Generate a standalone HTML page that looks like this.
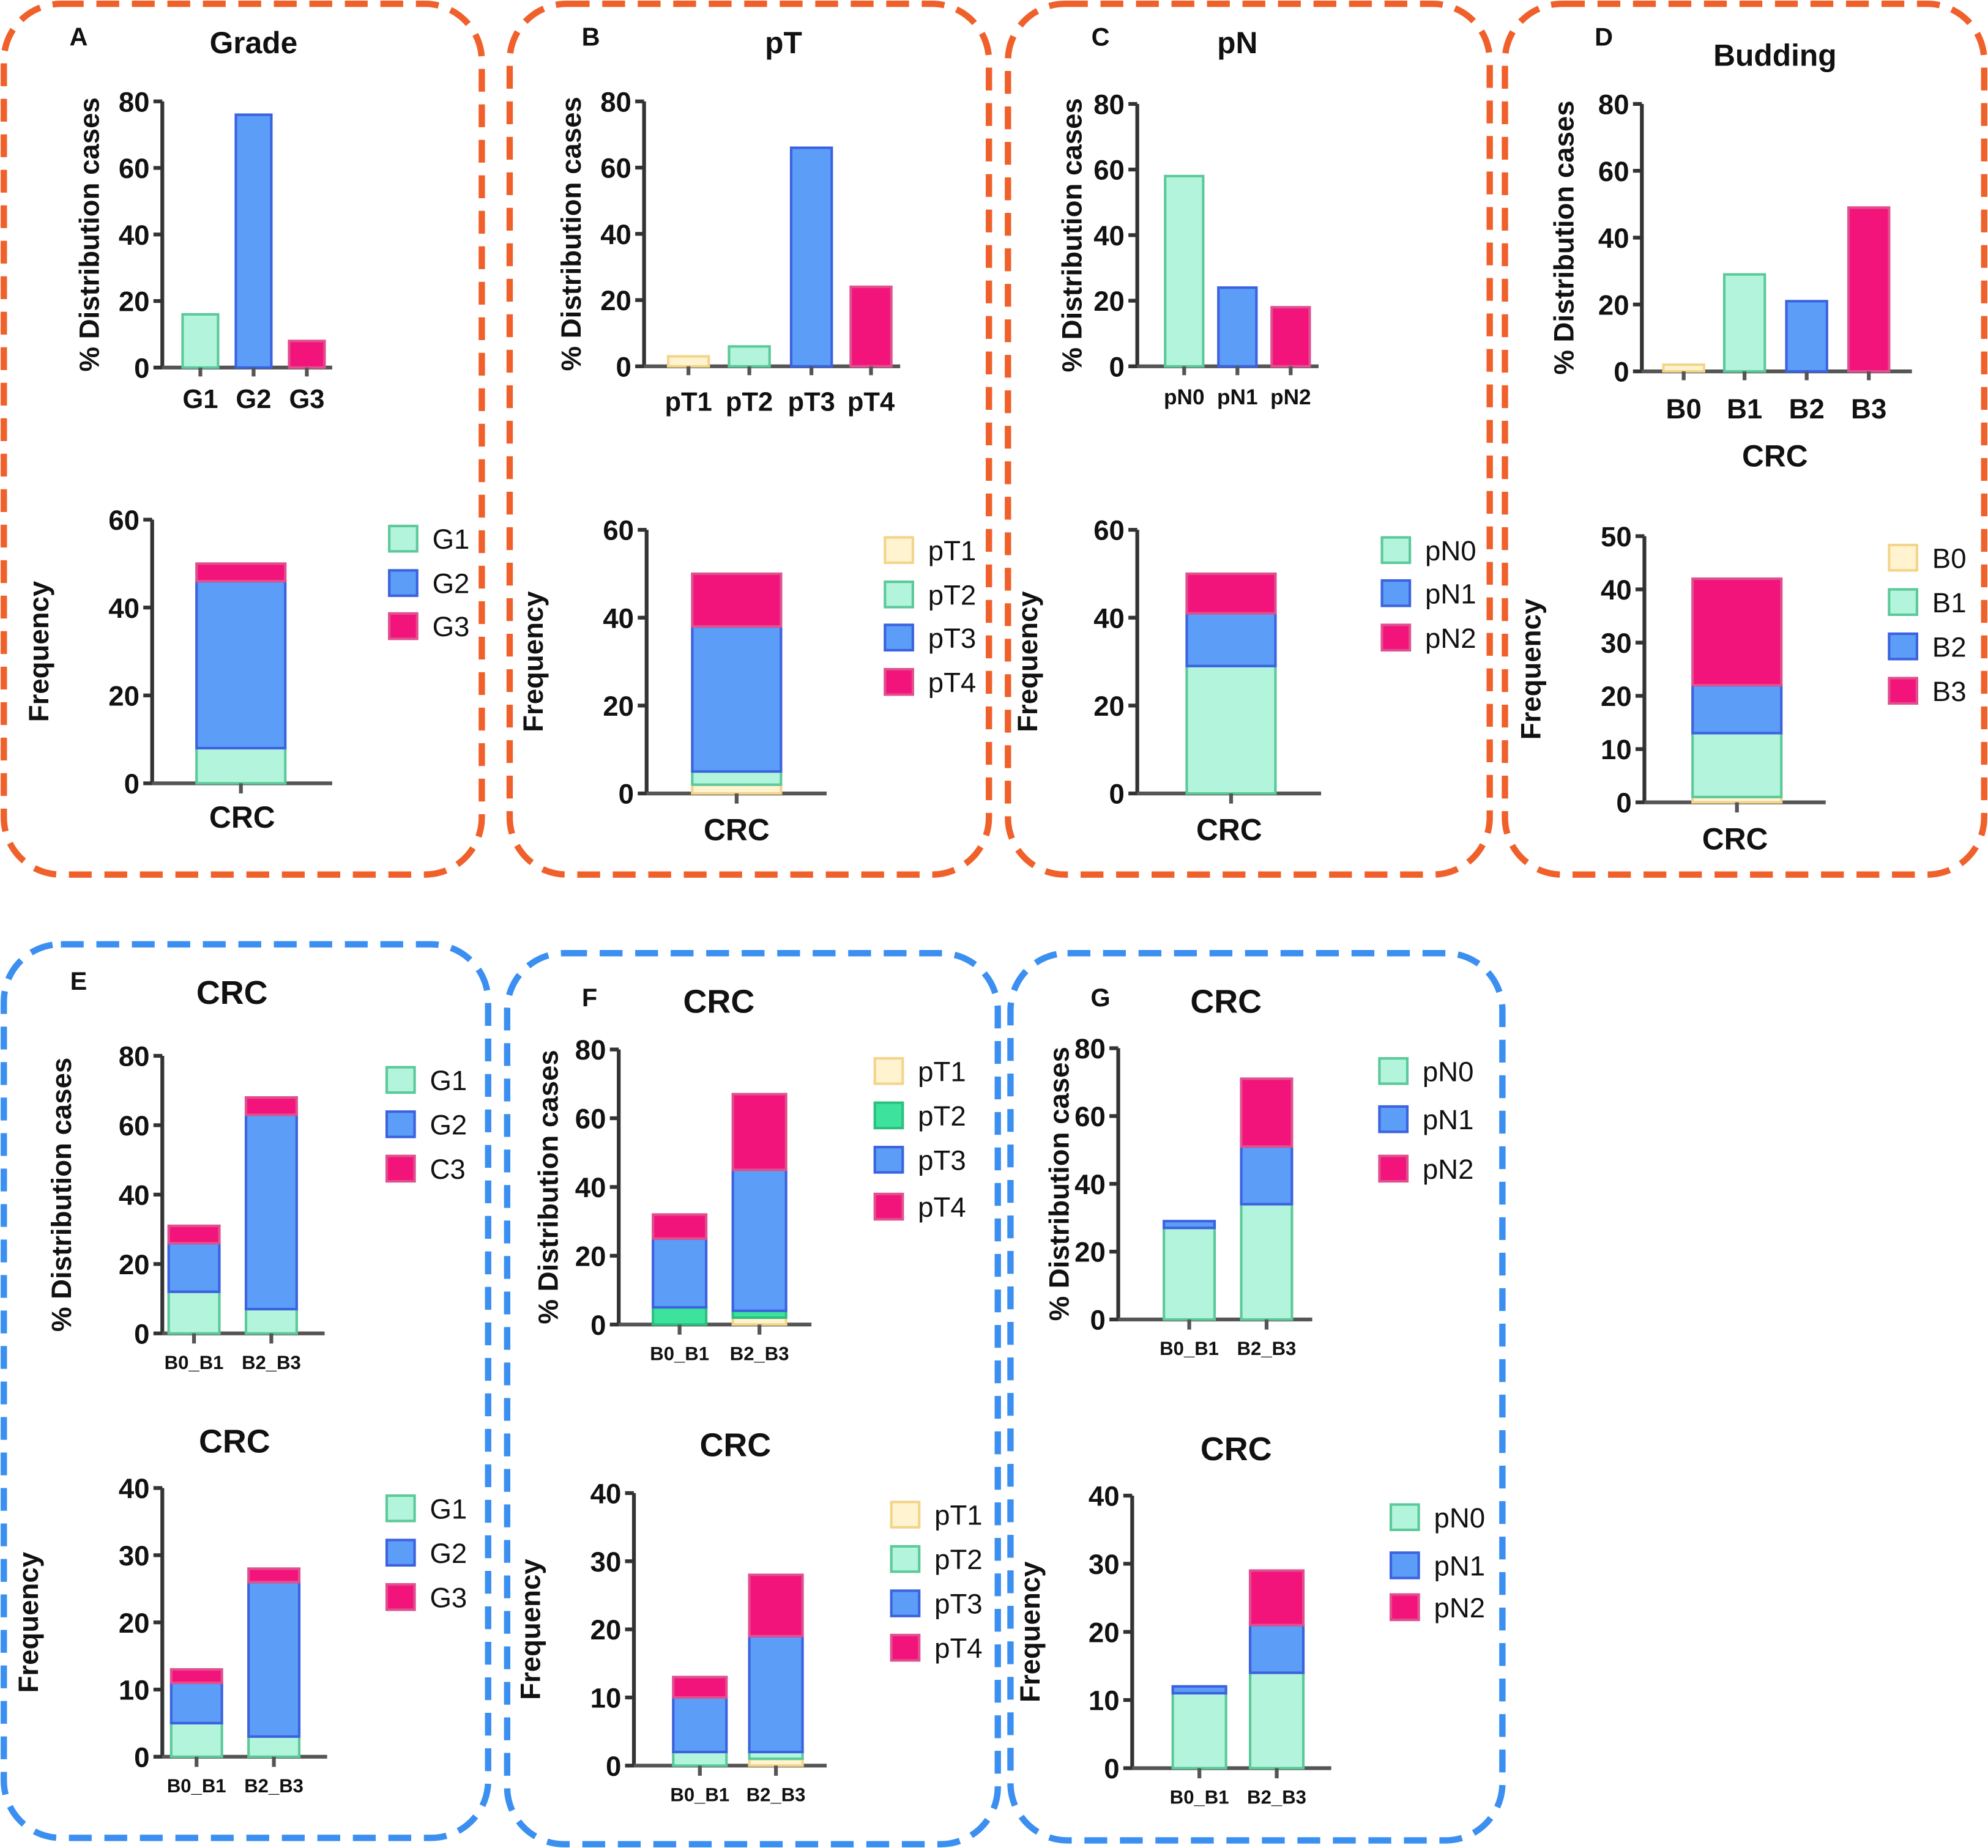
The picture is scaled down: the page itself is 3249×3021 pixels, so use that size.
<!DOCTYPE html>
<html><head><meta charset="utf-8"><style>
html,body{margin:0;padding:0;background:#fff}
svg{display:block}
text{font-family:"Liberation Sans",sans-serif;fill:#111}
</style></head><body>
<svg id="fig" width="3249" height="3021" viewBox="0 0 1568 1458" xmlns="http://www.w3.org/2000/svg"></svg>
<script>
// ---- data ----
const catsA1=['G1','G2','G3']; const valsA1=[16,76,8];
const seriesA2=['G1','G2','G3']; const valsA2=[[8],[38],[4]];
const catsB1=['pT1','pT2','pT3','pT4']; const valsB1=[3,6,66,24];
const seriesB2=['pT1','pT2','pT3','pT4']; const valsB2=[[2],[3],[33],[12]];
const catsC1=['pN0','pN1','pN2']; const valsC1=[58,24,18];
const seriesC2=['pN0','pN1','pN2']; const valsC2=[[29],[12],[9]];
const catsD1=['B0','B1','B2','B3']; const valsD1=[2,29,21,49];
const seriesD2=['B0','B1','B2','B3']; const valsD2=[[1],[12],[9],[20]];
const groupsEFG=['B0_B1','B2_B3'];
const seriesE1=['G1','G2','C3']; const valsE1=[[12,7],[14,56],[5,5]];
const seriesE2=['G1','G2','G3']; const valsE2=[[5,3],[6,23],[2,2]];
const seriesF1=['pT1','pT2','pT3','pT4']; const valsF1=[[0,2],[5,2],[20,41],[7,22]];
const seriesF2=['pT1','pT2','pT3','pT4']; const valsF2=[[0,1],[2,1],[8,17],[3,9]];
const seriesG1=['pN0','pN1','pN2']; const valsG1=[[27,34],[2,17],[0,20]];
const seriesG2=['pN0','pN1','pN2']; const valsG2=[[11,14],[1,7],[0,8]];
const ticks80=[0,20,40,60,80], ticks60=[0,20,40,60], ticks50=[0,10,20,30,40,50], ticks40=[0,10,20,30,40];

const NS='http://www.w3.org/2000/svg';
const svg=document.getElementById('fig');
const C={Y:['#fff3d0','#f3d48a'],G:['#b3f5dc','#5cc99a'],B:['#5b9df7','#3c62e0'],P:['#f2147a','#e05090'],BG:['#3de39c','#2cc07e']};
function el(tag,attrs,parent,name,inter){const e=document.createElementNS(NS,tag);for(const k in attrs)e.setAttribute(k,attrs[k]);


(parent||svg).appendChild(e);return e;}
function txt(x,y,s,size,opts,parent,name){const t=el('text',Object.assign({x:x,y:y,'font-size':size,'text-anchor':'middle','font-weight':'bold'},opts||{}),parent,name);t.textContent=s;return t;}

function panel(x1,y1,x2,y2,col,name){el('rect',{x:x1,y:y1,width:x2-x1,height:y2-y1,rx:45,ry:45,fill:'none',stroke:col,'stroke-width':5,'stroke-dasharray':'18 10'},svg,name);}

function axes(g,c,ticks,yname,ytitleX){
  const max=ticks[ticks.length-1];
  const ys=v=>c.y0-(v/max)*(c.y0-c.yTop);
  el('line',{x1:c.ax,y1:c.yTop,x2:c.ax,y2:c.y0,stroke:'#333','stroke-width':3},g,'y-axis');
  el('line',{x1:c.ax,y1:c.y0,x2:c.axEnd,y2:c.y0,stroke:'#555','stroke-width':3},g,'x-axis');
  ticks.forEach(v=>{el('line',{x1:c.ax-7,y1:ys(v),x2:c.ax,y2:ys(v),stroke:'#333','stroke-width':3},g,'y-tick');
    txt(c.ax-10,ys(v)+8,String(v),c.tickSize||22,{'text-anchor':'end'},g,'y-tick-label');});
  const t=txt(ytitleX,(c.yTop+c.y0)/2,yname,c.titleSize||22,{transform:'rotate(-90 '+ytitleX+' '+(c.yTop+c.y0)/2+')'},g,'y-axis-title');
  t.setAttribute('dy','8');
  return ys;
}

function simpleChart(c,cats,vals,colors){
  const g=el('g',{},svg,c.name);
  const ys=axes(g,c,c.ticks,'% Distribution cases',c.ytx);
  cats.forEach((cat,i)=>{const cx=c.centers[i];const col=C[colors[i]];
    const b=el('rect',{x:cx-c.bw/2,y:ys(vals[i]),width:c.bw,height:ys(0)-ys(vals[i]),fill:col[0],stroke:col[1],'stroke-width':2},g,'bar-'+cat.toLowerCase(),true);
    el('line',{x1:cx,y1:c.y0,x2:cx,y2:c.y0+7,stroke:'#555','stroke-width':3},g,'x-tick');
    txt(cx,c.y0+c.lblDy,cat,c.lblSize,{},g,'x-tick-label');});
  return g;
}

function stackChart(c,groups,series,vals,colors,ytitle){
  const g=el('g',{},svg,c.name);
  const ys=axes(g,c,c.ticks,ytitle,c.ytx);
  groups.forEach((grp,j)=>{let acc=0;const cx=c.centers[j];
    series.forEach((s,i)=>{const v=vals[i][j];if(v>0){const col=C[colors[i]];
      el('rect',{x:cx-c.bw/2,y:ys(acc+v),width:c.bw,height:ys(acc)-ys(acc+v),fill:col[0],stroke:col[1],'stroke-width':2},g,'bar-segment-'+s.toLowerCase(),true);}
      acc+=v;});
    el('line',{x1:cx,y1:c.y0,x2:cx,y2:c.y0+8,stroke:'#555','stroke-width':3},g,'x-tick');
    if(groups.length>1) txt(cx,c.y0+c.lblDy,grp,c.lblSize,{},g,'x-tick-label');
  });
  if(c.xlabel) txt((c.ax+c.axEnd)/2,c.xlabelY,c.xlabel,24,{},g,'x-axis-label');
  // legend
  series.forEach((s,i)=>{const col=C[colors[i]];const ly=c.leg.y[i];
    el('rect',{x:c.leg.x,y:ly-10,width:22,height:20,fill:col[0],stroke:col[1],'stroke-width':2},g,'legend-swatch-'+s.toLowerCase(),true);
    txt(c.leg.x+34,ly+8,s,22,{'text-anchor':'start','font-weight':'normal',fill:'#333'},g,'legend-label-'+s.toLowerCase());});
  if(c.title) txt(c.title[0],c.title[1],'CRC',26,{},g,'chart-title');
  return g;
}

// panels
panel(3,3,380,690,'#f0602a','panel-a-border');
panel(402,3,780,690,'#f0602a','panel-b-border');
panel(795,3,1175,690,'#f0602a','panel-c-border');
panel(1187,3,1565,690,'#f0602a','panel-d-border');
panel(3,745,385,1450,'#3a8ff0','panel-e-border');
panel(400,752,787,1455,'#3a8ff0','panel-f-border');
panel(797,752,1185,1452,'#3a8ff0','panel-g-border');

[['A',62,36],['B',466,36],['C',868,36],['D',1265,36],['E',62,781],['F',465,794],['G',868,794]].forEach(l=>txt(l[1],l[2],l[0],20,{},svg,'panel-letter-'+l[0].toLowerCase()));
txt(200,42,'Grade',24,{},svg,'panel-a-title');
txt(618,42,'pT',24,{},svg,'panel-b-title');
txt(976,42,'pN',24,{},svg,'panel-c-title');
txt(1400,52,'Budding',24,{},svg,'panel-d-title');

// top row simple charts
simpleChart({name:'chart-a-top',ax:128,axEnd:262,yTop:80,y0:290,ticks:ticks80,ytx:70,bw:28,centers:[158,200,242],lblDy:32,lblSize:21},catsA1,valsA1,['G','B','P']);
simpleChart({name:'chart-b-top',ax:508,axEnd:710,yTop:80,y0:289,ticks:ticks80,ytx:450,bw:32,centers:[543,591,640,687],lblDy:35,lblSize:21},catsB1,valsB1,['Y','G','B','P']);
simpleChart({name:'chart-c-top',ax:897,axEnd:1040,yTop:82,y0:289,ticks:ticks80,ytx:845,bw:30,centers:[934,976,1018],lblDy:30,lblSize:17},catsC1,valsC1,['G','B','P']);
simpleChart({name:'chart-d-top',ax:1295,axEnd:1508,yTop:82,y0:293,ticks:ticks80,ytx:1233,bw:32,centers:[1328,1376,1425,1474],lblDy:37,lblSize:22},catsD1,valsD1,['Y','G','B','P']);
txt(1400,368,'CRC',24,{},svg,'chart-d-top-x-title');

// top row stacked
stackChart({name:'chart-a-bottom',ax:120,axEnd:262,yTop:410,y0:618,ticks:ticks60,ytx:30,bw:70,centers:[190],xlabel:'CRC',xlabelY:653,leg:{x:307,y:[425,460,494]}},['CRC'],seriesA2,valsA2,['G','B','P'],'Frequency');
stackChart({name:'chart-b-bottom',ax:510,axEnd:652,yTop:418,y0:626,ticks:ticks60,ytx:420,bw:70,centers:[581],xlabel:'CRC',xlabelY:663,leg:{x:698,y:[434,469,503,538]}},['CRC'],seriesB2,valsB2,['Y','G','B','P'],'Frequency');
stackChart({name:'chart-c-bottom',ax:897,axEnd:1042,yTop:418,y0:626,ticks:ticks60,ytx:810,bw:70,centers:[971],xlabel:'CRC',xlabelY:663,leg:{x:1090,y:[434,468,503]}},['CRC'],seriesC2,valsC2,['G','B','P'],'Frequency');
stackChart({name:'chart-d-bottom',ax:1297,axEnd:1440,yTop:423,y0:633,ticks:ticks50,ytx:1207,bw:70,centers:[1370],xlabel:'CRC',xlabelY:670,leg:{x:1490,y:[440,475,510,545]}},['CRC'],seriesD2,valsD2,['Y','G','B','P'],'Frequency');

// bottom row
stackChart({name:'chart-e-top',ax:128,axEnd:256,yTop:833,y0:1052,ticks:ticks80,ytx:48,bw:40,centers:[153,214],lblDy:28,lblSize:15,title:[183,792],leg:{x:305,y:[852,887,922]}},groupsEFG,seriesE1,valsE1,['G','B','P'],'% Distribution cases');
stackChart({name:'chart-e-bottom',ax:128,axEnd:258,yTop:1174,y0:1386,ticks:ticks40,ytx:22,bw:40,centers:[155,216],lblDy:28,lblSize:15,title:[185,1146],leg:{x:305,y:[1190,1225,1260]}},groupsEFG,seriesE2,valsE2,['G','B','P'],'Frequency');
stackChart({name:'chart-f-top',ax:488,axEnd:640,yTop:828,y0:1045,ticks:ticks80,ytx:432,bw:42,centers:[536,599],lblDy:28,lblSize:15,title:[567,799],leg:{x:690,y:[845,880,915,952]}},groupsEFG,seriesF1,valsF1,['Y','BG','B','P'],'% Distribution cases');
stackChart({name:'chart-f-bottom',ax:500,axEnd:652,yTop:1178,y0:1393,ticks:ticks40,ytx:418,bw:42,centers:[552,612],lblDy:28,lblSize:15,title:[580,1149],leg:{x:703,y:[1195,1230,1265,1300]}},groupsEFG,seriesF2,valsF2,['Y','G','B','P'],'Frequency');
stackChart({name:'chart-g-top',ax:882,axEnd:1035,yTop:827,y0:1041,ticks:ticks80,ytx:835,bw:40,centers:[938,999],lblDy:28,lblSize:15,title:[967,799],leg:{x:1088,y:[845,883,922]}},groupsEFG,seriesG1,valsG1,['G','B','P'],'% Distribution cases');
stackChart({name:'chart-g-bottom',ax:893,axEnd:1050,yTop:1180,y0:1395,ticks:ticks40,ytx:812,bw:42,centers:[946,1007],lblDy:28,lblSize:15,title:[975,1152],leg:{x:1097,y:[1197,1235,1268]}},groupsEFG,seriesG2,valsG2,['G','B','P'],'Frequency');
</script>
</body></html>
